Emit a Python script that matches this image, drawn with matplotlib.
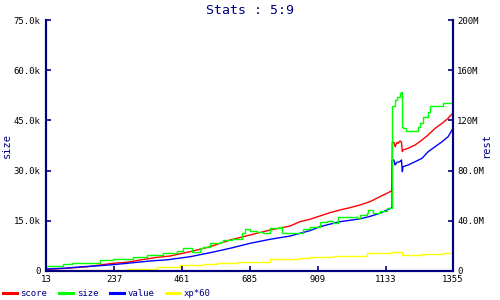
import matplotlib
matplotlib.use("Agg")
import matplotlib.pyplot as plt
from matplotlib.lines import Line2D

# ---------------- data ----------------
x_ticks = [13, 237, 461, 685, 909, 1133, 1355]
left_ticks_k = [0, 15, 30, 45, 60, 75]
left_tick_labels = ["0", "15.0k", "30.0k", "45.0k", "60.0k", "75.0k"]
right_ticks_M = [0, 40, 80, 120, 160, 200]
right_tick_labels = ["0", "40.0M", "80.0M", "120M", "160M", "200M"]

# size (left axis, thousands)
size_x = [13, 69, 99, 191, 234, 300, 346, 399, 445, 465, 494, 521, 531, 554,
          587, 597, 626, 659, 669, 686, 709, 729, 752, 785, 791, 827, 860, 883,
          916, 940, 959, 976, 1039, 1048, 1071, 1075, 1091, 1114, 1137, 1154,
          1155, 1164, 1170, 1180, 1185, 1188, 1190, 1200, 1240, 1246, 1256,
          1273, 1279, 1322, 1352, 1355]
size_k = [1.5, 2.1, 2.5, 3.3, 3.6, 4.1, 4.8, 5.3, 6.0, 7.0, 5.8, 7.0, 7.3, 8.3,
          8.8, 9.3, 9.5, 11.3, 12.5, 12.0, 11.7, 11.3, 12.8, 13.2, 11.3, 11.4,
          12.5, 13.0, 14.7, 15.0, 14.4, 16.0, 15.8, 16.7, 17.2, 18.2, 17.4, 18.0,
          18.7, 19.2, 49.4, 51.1, 52.1, 53.1, 53.4, 43.1, 42.6, 41.8, 43.1, 44.2,
          46.1, 47.6, 49.4, 50.1, 50.8, 50.9]

# score (right axis, millions)
score_x = [13, 82, 151, 191, 234, 280, 323, 379, 422, 488, 554, 620, 686, 752,
           818, 850, 883, 916, 949, 982, 1015, 1048, 1081, 1114, 1137, 1154,
           1155, 1160, 1164, 1170, 1174, 1180, 1185, 1188, 1190, 1207, 1230,
           1253, 1273, 1296, 1319, 1339, 1355]
score_M = [1.35, 2.15, 3.43, 4.78, 6.14, 6.93, 8.76, 10.9, 11.95, 15.38, 19.36,
           24.7, 28.69, 32.67, 35.86, 39.28, 41.2, 43.82, 46.45, 48.61, 50.44,
           52.59, 55.22, 59.2, 61.91, 64.0, 102.5, 102.5, 99.0, 102.5, 101.7,
           103.6, 102.8, 95.1, 96.4, 97.8, 100.4, 104.4, 108.4, 113.7, 117.7,
           121.7, 126.0]

# value (right axis, millions)
value_x = [13, 69, 135, 191, 247, 300, 356, 412, 488, 554, 620, 686, 752, 818,
           850, 883, 916, 982, 1048, 1081, 1114, 1154, 1155, 1160, 1164, 1170,
           1180, 1185, 1188, 1190, 1207, 1230, 1253, 1273, 1296, 1319, 1339, 1355]
value_M = [1.59, 2.15, 3.43, 4.22, 5.34, 6.61, 7.97, 8.9, 11.39, 14.58, 18.09,
           22.07, 25.26, 27.89, 30.04, 32.11, 35.3, 39.28, 41.5, 43.5, 45.98,
           50.44, 88.45, 88.45, 84.46, 86.61, 87.09, 88.45, 79.12, 83.11, 84.46,
           87.09, 89.8, 95.06, 99.04, 103.03, 107.01, 113.7]

# xp*60 (right axis, millions)
xp_x = [13, 135, 280, 379, 455, 531, 577, 643, 752, 850, 883, 959, 1071, 1114,
        1154, 1187, 1253, 1322, 1355]
xp_M = [0.24, 0.8, 1.83, 3.43, 4.78, 5.58, 6.14, 7.41, 9.32, 10.12, 10.92,
        11.95, 14.1, 14.58, 15.38, 12.75, 13.55, 14.1, 14.58]

# ---------------- plot ----------------
NAVY = "#000080"
MONO = "DejaVu Sans Mono"

fig = plt.figure(figsize=(5, 3), dpi=100)
ax = fig.add_axes([46 / 500, 1 - 271 / 300, (453 - 46) / 500, (271 - 20) / 300])
ax2 = ax.twinx()

lw = 1.0
l_size, = ax.plot(size_x, [v * 1000 for v in size_k], color="#00ff00", lw=lw,
                  drawstyle="steps-post", label="size")
l_score, = ax2.plot(score_x, [v * 1e6 for v in score_M], color="#ff0000", lw=lw,
                    label="score")
l_value, = ax2.plot(value_x, [v * 1e6 for v in value_M], color="#0000ff", lw=lw,
                    label="value")
l_xp, = ax2.plot(xp_x, [v * 1e6 for v in xp_M], color="#ffff00", lw=lw,
                 drawstyle="steps-post", label="xp*60")
ax.set_zorder(ax2.get_zorder() + 1)
ax.patch.set_visible(False)

ax.set_xlim(13, 1355)
ax.set_ylim(0, 75000)
ax2.set_ylim(0, 200e6)

ax.set_xticks(x_ticks)
ax.set_xticklabels([str(t) for t in x_ticks])
ax.set_yticks([t * 1000 for t in left_ticks_k])
ax.set_yticklabels(left_tick_labels)
ax2.set_yticks([t * 1e6 for t in right_ticks_M])
ax2.set_yticklabels(right_tick_labels)

for a in (ax, ax2):
    for side in ("left", "right", "bottom"):
        a.spines[side].set_color(NAVY)
        a.spines[side].set_linewidth(1.5)
    a.spines["top"].set_visible(False)
    a.tick_params(direction="in", length=3.5, width=1.2, color=NAVY,
                  labelsize=6.5, labelcolor="black")
    for lab in a.get_xticklabels() + a.get_yticklabels():
        lab.set_family(MONO)
ax.tick_params(axis="y", pad=4)
ax2.tick_params(axis="y", pad=3)
ax.tick_params(axis="x", pad=3)

ax.set_ylabel("size", color=NAVY, family=MONO, fontsize=7.5, labelpad=2)
ax2.set_ylabel("rest", color=NAVY, family=MONO, fontsize=7.5, labelpad=4,
               rotation=90)
ax.yaxis.set_label_coords(-0.083, 0.5)
ax2.yaxis.set_label_coords(1.07, 0.5)

fig.text(0.5, 1 - 10 / 300, "Stats : 5:9", ha="center", va="center",
         color=NAVY, family=MONO, fontsize=9.5)

handles = [Line2D([], [], color="#ff0000", lw=2.2),
           Line2D([], [], color="#00ff00", lw=2.2),
           Line2D([], [], color="#0000ff", lw=2.2),
           Line2D([], [], color="#ffff00", lw=2.2)]
leg = fig.legend(handles, ["score", "size", "value", "xp*60"],
                 loc="center left", bbox_to_anchor=(0.0, 1 - 294 / 300),
                 ncol=4, frameon=False, handlelength=1.6, handletextpad=0.35,
                 columnspacing=1.3, borderpad=0.0, borderaxespad=0.3,
                 prop={"family": MONO, "size": 6.5})
for t in leg.get_texts():
    t.set_color(NAVY)

fig.savefig("out.png", dpi=100)
